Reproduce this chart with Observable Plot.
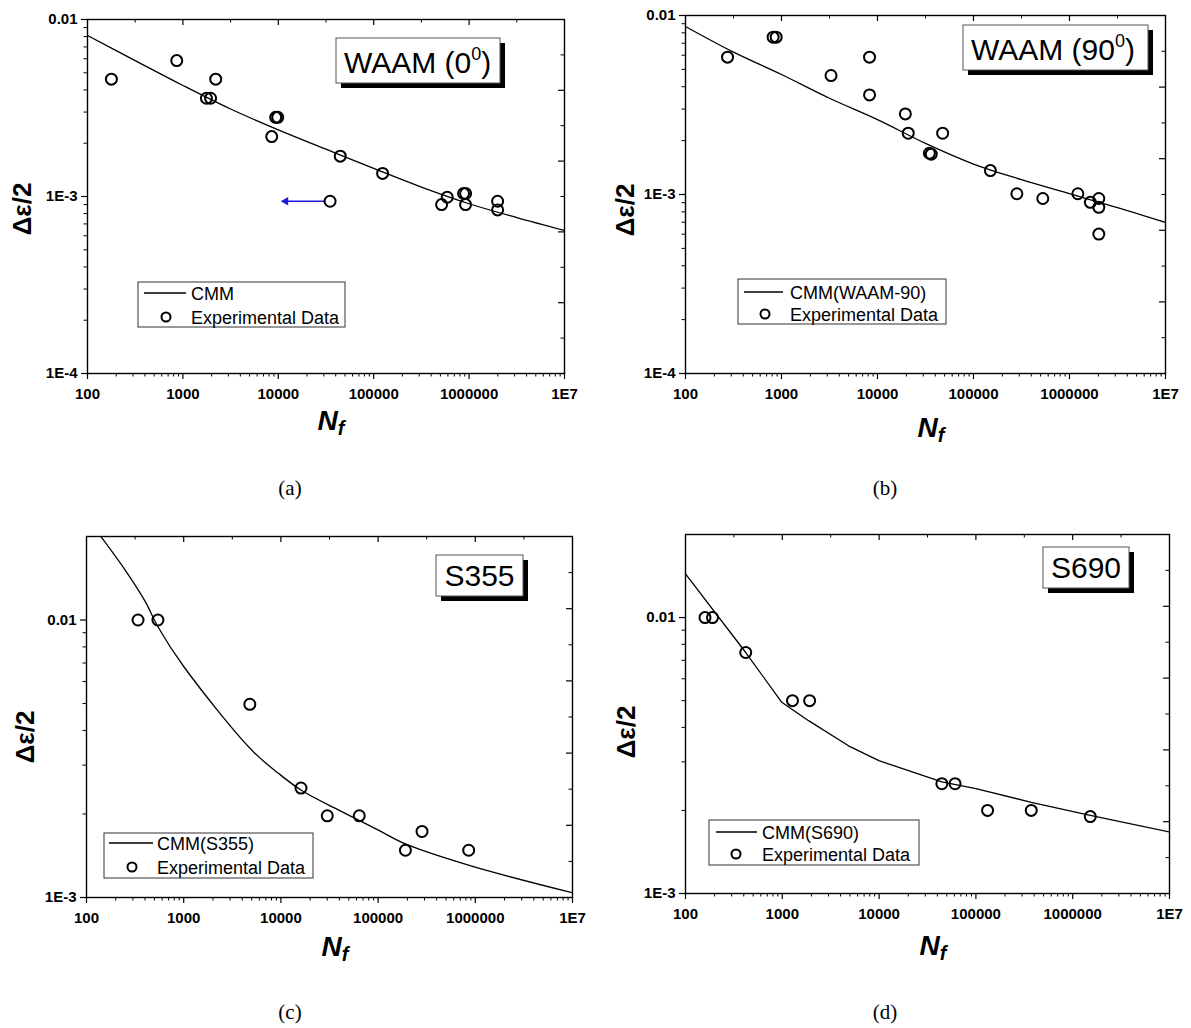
<!DOCTYPE html>
<html><head><meta charset="utf-8">
<script src="https://cdn.jsdelivr.net/npm/d3@7"></script>
<script src="https://cdn.jsdelivr.net/npm/@observablehq/plot@0.6"></script>
<style>
body{margin:0;background:#fff;}
#wrap{position:relative;width:1191px;height:1028px;overflow:hidden;background:#fff;}
#wrap > svg{position:absolute;overflow:visible;}
</style></head><body><div id="wrap"></div>
<script>
// ---------- shared axis ticks ----------
const xTicks = [100, 1000, 10000, 100000, 1000000, 10000000];
const xTickLabels = ["100", "1000", "10000", "100000", "1000000", "1E7"];
const yTicksAB = [0.0001, 0.001, 0.01];
const yTickLabelsAB = ["1E-4", "1E-3", "0.01"];
const yTicksCD = [0.001, 0.01];
const yTickLabelsCD = ["1E-3", "0.01"];

// ---------- (a) WAAM 0 deg ----------
const waam0N = [178, 862, 1765, 1950, 2208, 8530, 9390, 9860, 44600, 124000, 34900, 515000, 590000, 875000, 920000, 918000, 1990000, 1990000];
const waam0E = [0.0046, 0.00586, 0.00359, 0.00359, 0.0046, 0.00218, 0.0028, 0.0028, 0.00169, 0.00135, 0.00094, 0.0009, 0.00099, 0.00104, 0.00104, 0.0009, 0.00094, 0.00084];
const waam0CurveN = [100, 316, 1000, 3162, 10000, 31623, 100000, 316228, 1000000, 3162278, 10000000];
const waam0CurveE = [0.00812, 0.00586, 0.00424, 0.00312, 0.00238, 0.00185, 0.00144, 0.00113, 0.00091, 0.00076, 0.000643];
const waam0ArrowN = [30600, 11400];
const waam0ArrowE = [0.00094, 0.00094];

// ---------- (b) WAAM 90 deg ----------
const waam90N = [274, 818, 880, 3280, 8260, 8260, 19500, 20900, 47700, 34700, 36300, 150000, 283000, 527000, 1222000, 1650000, 2020000, 2020000, 2020000];
const waam90E = [0.00585, 0.00757, 0.00757, 0.00462, 0.00585, 0.0036, 0.00282, 0.0022, 0.0022, 0.0017, 0.00168, 0.00136, 0.00101, 0.00095, 0.00101, 0.000904, 0.00095, 0.000848, 0.000601];
const waam90CurveN = [100, 316, 1000, 3162, 10000, 31623, 100000, 316228, 1000000, 3162278, 10000000];
const waam90CurveE = [0.00868, 0.00624, 0.00468, 0.00345, 0.00262, 0.00193, 0.00148, 0.00121, 0.00101, 0.000845, 0.000698];

// ---------- (c) S355 ----------
const s355N = [339, 543, 4790, 16100, 30000, 64000, 283000, 191000, 855000];
const s355E = [0.01, 0.01, 0.00497, 0.00248, 0.00197, 0.00197, 0.00173, 0.00148, 0.00148];
const s355CurveN = [139, 248, 400, 543, 1000, 5000, 9580, 16360, 39900, 97300, 191000, 902000, 10000000];
const s355CurveE = [0.0201, 0.0152, 0.0117, 0.00946, 0.0068, 0.0034, 0.00279, 0.00243, 0.00206, 0.00176, 0.00156, 0.0013, 0.00104];

// ---------- (d) S690 ----------
const s690N = [159, 190, 419, 1274, 1915, 44500, 60900, 132000, 373000, 1520000];
const s690E = [0.01, 0.01, 0.00747, 0.005, 0.005, 0.0025, 0.0025, 0.002, 0.002, 0.0019];
const s690CurveN = [100, 419, 988, 1867, 4830, 9950, 44500, 100000, 373000, 1520000, 10000000];
const s690CurveE = [0.0144, 0.00747, 0.00493, 0.00423, 0.00343, 0.00303, 0.00254, 0.0024, 0.00214, 0.00192, 0.00167];

const zip = (a, b) => a.map((v, i) => ({n: v, e: b[i]}));
const FONT = "'Liberation Sans', Arial, Helvetica, sans-serif";
const wrap = document.getElementById("wrap");

function panel(p) {
  const W = p.w, H = p.h;
  const ph = H - p.mt - p.mb, pw = W - p.ml - p.mr;
  const [yLo, yHi] = p.yDomain;
  const lLo = Math.log10(yLo), lHi = Math.log10(yHi);
  const xMinor = [];
  for (let e = 2; e < 7; e++) for (let k = 2; k < 10; k++) xMinor.push(k * 10 ** e);
  const yMinor = [];
  for (let e = Math.floor(lLo); e <= Math.ceil(lHi); e++) for (let k = 2; k < 10; k++) {
    const v = k * 10 ** e; if (v > yLo * 1.001 && v < yHi * 0.999) yMinor.push(v);
  }
  const topMajor = [], topMinor = [], rightMajor = [], rightMinor = [];
  for (let k = 1; k < 10; k++) {
    (k % 2 ? topMinor : topMajor).push(10 ** (2 + k * 0.5));
    (k % 2 ? rightMinor : rightMajor).push(10 ** (lLo + k * (lHi - lLo) / 10));
  }
  const arrowMarks = p.arrow ? [
    Plot.link([p.arrow], {x1: "x1", y1: "y1", x2: "x2", y2: "y2", stroke: "#1a1ad8", strokeWidth: 1.3}),
    Plot.dot([p.arrow], {x: "x2", y: "y2", symbol: "triangle", rotate: -90, r: 3.2, fill: "#1a1ad8", stroke: "none", dx: 2})
  ] : [];
  const marks = [
    Plot.ruleX(p.xTicks, {x: d => d, insetTop: ph, insetBottom: -6, strokeWidth: 1.2}),
    Plot.ruleX(xMinor, {x: d => d, insetTop: ph, insetBottom: -3.5, strokeWidth: 1}),
    Plot.ruleX(topMajor, {x: d => d, insetBottom: ph - 6, strokeWidth: 1.2}),
    Plot.ruleX(topMinor, {x: d => d, insetBottom: ph - 3.5, strokeWidth: 1}),
    Plot.ruleY(p.yTicks, {y: d => d, insetRight: pw, insetLeft: -6, strokeWidth: 1.2}),
    Plot.ruleY(yMinor, {y: d => d, insetRight: pw, insetLeft: -3.5, strokeWidth: 1}),
    Plot.ruleY(rightMajor, {y: d => d, insetLeft: pw - 6, strokeWidth: 1.2}),
    Plot.ruleY(rightMinor, {y: d => d, insetLeft: pw - 3.5, strokeWidth: 1}),
    Plot.axisX(p.xTicks, {tickSize: 0, tickPadding: 15, label: null, fontSize: 15, fontWeight: "bold",
      tickFormat: d => p.xLabels[p.xTicks.indexOf(d)]}),
    Plot.axisY(p.yTicks, {tickSize: 0, tickPadding: 10, label: null, fontSize: 15, fontWeight: "bold",
      tickFormat: d => p.yLabels[p.yTicks.indexOf(d)]}),
    Plot.line(p.curve, {x: "n", y: "e", stroke: "black", strokeWidth: 1.3, clip: true, curve: p.curveType}),
    ...arrowMarks,
    Plot.dot(p.points, {x: "n", y: "e", r: 5.5, stroke: "black", strokeWidth: 2, fill: "none"}),
    Plot.frame({stroke: "black", strokeWidth: 1.4})
  ];
  const svg = Plot.plot({
    width: W, height: H, marginLeft: p.ml, marginRight: p.mr, marginTop: p.mt, marginBottom: p.mb,
    x: {type: "log", domain: [100, 1e7]},
    y: {type: "log", domain: p.yDomain},
    style: {fontFamily: FONT, color: "black", background: "transparent", overflow: "visible"},
    marks
  });
  svg.style.left = p.left + "px";
  svg.style.top = p.top + "px";
  wrap.appendChild(svg);
}

panel({left: 0, top: 0, w: 595, h: 440, ml: 87, mr: 31, mt: 19, mb: 67, yDomain: [1e-4, 1e-2],
  xTicks, xLabels: xTickLabels, yTicks: yTicksAB, yLabels: yTickLabelsAB, curveType: "catmull-rom",
  points: zip(waam0N, waam0E), curve: zip(waam0CurveN, waam0CurveE),
  arrow: {x1: waam0ArrowN[0], y1: waam0ArrowE[0], x2: waam0ArrowN[1], y2: waam0ArrowE[1]}});
panel({left: 595, top: 0, w: 596, h: 440, ml: 90, mr: 26, mt: 15, mb: 67, yDomain: [1e-4, 1e-2],
  xTicks, xLabels: xTickLabels, yTicks: yTicksAB, yLabels: yTickLabelsAB, curveType: "catmull-rom",
  points: zip(waam90N, waam90E), curve: zip(waam90CurveN, waam90CurveE)});
panel({left: 0, top: 520, w: 595, h: 440, ml: 86, mr: 23, mt: 16, mb: 63, yDomain: [1e-3, 0.02],
  xTicks, xLabels: xTickLabels, yTicks: yTicksCD, yLabels: yTickLabelsCD, curveType: "catmull-rom",
  points: zip(s355N, s355E), curve: zip(s355CurveN, s355CurveE)});
panel({left: 595, top: 520, w: 596, h: 440, ml: 90, mr: 22, mt: 14, mb: 67, yDomain: [1e-3, 0.02],
  xTicks, xLabels: xTickLabels, yTicks: yTicksCD, yLabels: yTickLabelsCD, curveType: "linear",
  points: zip(s690N, s690E), curve: zip(s690CurveN, s690CurveE)});

// ---------- overlay: labels, boxes, legends, captions ----------
const ov = d3.select(wrap).append("svg").attr("width", 1191).attr("height", 1028)
  .style("left", "0px").style("top", "0px").attr("font-family", FONT);

const yLabels = [[22, 209], [625, 210], [25, 737], [626, 732]];
yLabels.forEach(([x, y]) => ov.append("text").attr("transform", `translate(${x},${y}) rotate(-90)`)
  .attr("text-anchor", "middle").attr("dominant-baseline", "central")
  .attr("font-size", 26).attr("font-weight", "bold").text("Δε/2"));

const xLabels = [[331, 430], [931, 437], [335, 956], [933, 955]];
xLabels.forEach(([x, y]) => {
  const t = ov.append("text").attr("x", x).attr("y", y).attr("text-anchor", "middle")
    .attr("font-size", 28).attr("font-weight", "bold").attr("font-style", "italic");
  t.append("tspan").text("N");
  t.append("tspan").attr("font-size", 20).attr("dy", 5).text("f");
});

const boxes = [
  {x: 336, y: 38, w: 164, h: 45, tx: 344, ty: 73, anchor: "start", main: "WAAM (0", sup: "0", tail: ")"},
  {x: 963, y: 25, w: 185, h: 45, tx: 971, ty: 60, anchor: "start", main: "WAAM (90", sup: "0", tail: ")"},
  {x: 436, y: 555, w: 87, h: 41, tx: 479.5, ty: 586, anchor: "middle", main: "S355"},
  {x: 1043, y: 547, w: 86, h: 41, tx: 1086, ty: 578, anchor: "middle", main: "S690"}
];
boxes.forEach(b => {
  ov.append("rect").attr("x", b.x + 5).attr("y", b.y + 5).attr("width", b.w).attr("height", b.h).attr("fill", "black");
  ov.append("rect").attr("x", b.x).attr("y", b.y).attr("width", b.w).attr("height", b.h)
    .attr("fill", "white").attr("stroke", "#555").attr("stroke-width", 1);
  const t = ov.append("text").attr("x", b.tx).attr("y", b.ty).attr("text-anchor", b.anchor).attr("font-size", 30);
  t.append("tspan").text(b.main);
  if (b.sup) {
    t.append("tspan").attr("font-size", 18).attr("dy", -13).text(b.sup);
    t.append("tspan").attr("dy", 13).text(b.tail);
  }
});

const legends = [
  {x: 138, y: 282, w: 207, h: 45, lx1: 144, lx2: 186, ly: 293, tx: 191, cx: 166, cy: 317, name: "CMM"},
  {x: 738, y: 279, w: 208, h: 45, lx1: 744, lx2: 783, ly: 292, tx: 790, cx: 765, cy: 314, name: "CMM(WAAM-90)"},
  {x: 104, y: 833, w: 209, h: 45, lx1: 109, lx2: 153, ly: 843, tx: 157, cx: 132, cy: 867, name: "CMM(S355)"},
  {x: 709, y: 820, w: 210, h: 45, lx1: 716, lx2: 757, ly: 832, tx: 762, cx: 736, cy: 854, name: "CMM(S690)"}
];
legends.forEach(l => {
  ov.append("rect").attr("x", l.x).attr("y", l.y).attr("width", l.w).attr("height", l.h)
    .attr("fill", "white").attr("stroke", "#333").attr("stroke-width", 1);
  ov.append("line").attr("x1", l.lx1).attr("x2", l.lx2).attr("y1", l.ly).attr("y2", l.ly)
    .attr("stroke", "black").attr("stroke-width", 1.3);
  ov.append("text").attr("x", l.tx).attr("y", l.ly + 7).attr("font-size", 18).text(l.name);
  ov.append("circle").attr("cx", l.cx).attr("cy", l.cy).attr("r", 4.5)
    .attr("fill", "none").attr("stroke", "black").attr("stroke-width", 2);
  ov.append("text").attr("x", l.tx).attr("y", l.cy + 7).attr("font-size", 18).text("Experimental Data");
});

const captions = [[290, 495, "(a)"], [885, 495, "(b)"], [290, 1019, "(c)"], [885, 1019, "(d)"]];
captions.forEach(([x, y, s]) => ov.append("text").attr("x", x).attr("y", y).attr("text-anchor", "middle")
  .attr("font-family", "'Liberation Serif', 'Times New Roman', serif").attr("font-size", 21).text(s));
</script></body></html>
